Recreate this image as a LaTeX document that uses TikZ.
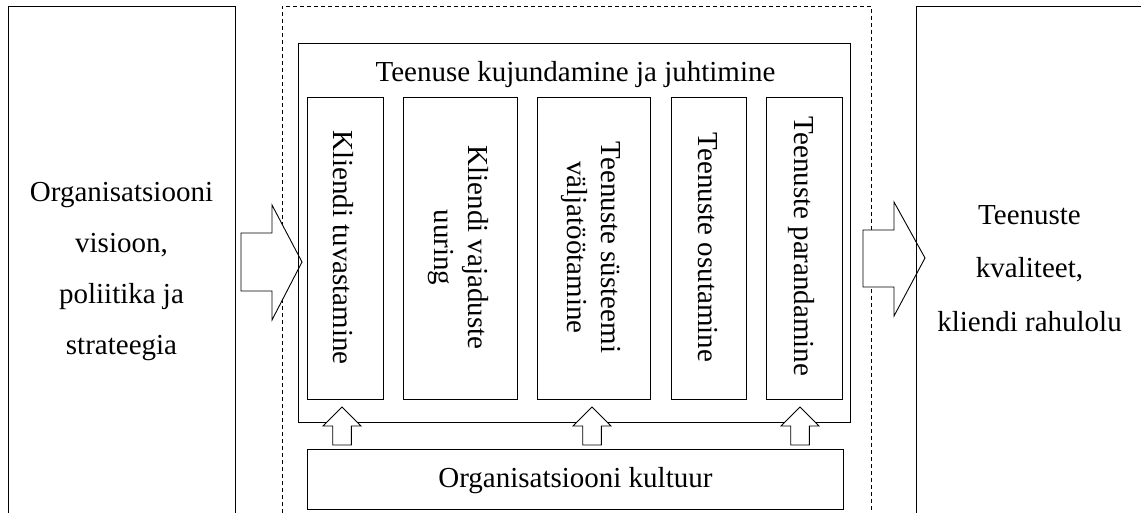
\documentclass[tikz,border=0pt]{standalone}
\usepackage{fontspec}
\setmainfont{Liberation Serif}
\begin{document}
\begin{tikzpicture}[x=1pt,y=-1pt,
  line/.style={draw=black, line width=0.9pt},
  box/.style={line, rectangle, inner sep=0pt, anchor=north west},
  sidetxt/.style={font=\fontsize{29}{51}\selectfont, align=center, inner sep=0pt},
  sidetxtb/.style={font=\fontsize{29}{53.5}\selectfont, align=center, inner sep=0pt},
  plaintxt/.style={font=\fontsize{29}{34}\selectfont, align=center, inner sep=0pt},
  vtxt/.style={font=\fontsize{29}{34}\selectfont, align=center, inner sep=0pt, rotate=-90},
  framedash/.style={draw=black, line width=0.8pt, dash pattern=on 4pt off 3pt},
  blockarrow/.style={line, fill=white, line join=miter}]
\useasboundingbox (0,0) rectangle (1141,513);

% dashed frame
\draw[framedash] (282,520) -- (282,6) -- (871,6) -- (871,520);

% side arrows
\draw[blockarrow] (241,233) -- (272,233) -- (272,205) -- (302,262) -- (272,320) -- (272,291) -- (241,291) -- cycle;
\draw[blockarrow] (863,230) -- (894,230) -- (894,202) -- (925,258) -- (894,316) -- (894,287) -- (863,287) -- cycle;

% side boxes (open at the image border)
\draw[line] (8,520) -- (8,6) -- (235,6) -- (235,520);
\draw[line] (916,520) -- (916,6) -- (1150,6);
\node[sidetxt] (lefttext) at (121.5,271.5) {Organisatsiooni\\visioon,\\poliitika ja\\strateegia};
\node[sidetxtb] (righttext) at (1029.5,268.5) {Teenuste\\kvaliteet,\\kliendi rahulolu};

% main box
\node[box, minimum width=552pt, minimum height=379pt] (main) at (298,43) {};
\node[plaintxt, anchor=base] (title) at (575.5,82) {Teenuse kujundamine ja juhtimine};

% inner boxes
\node[box, minimum width=76pt,  minimum height=302pt] (k1) at (307,97) {};
\node[box, minimum width=114pt, minimum height=302pt] (k2) at (403,97) {};
\node[box, minimum width=113pt, minimum height=302pt] (k3) at (536.5,97) {};
\node[box, minimum width=75pt,  minimum height=302pt] (k4) at (671,97) {};
\node[box, minimum width=76pt,  minimum height=302pt] (k5) at (766,97) {};

\node[vtxt] (t1) at ([xshift=-2pt,yshift=1pt]k1.center) {Kliendi tuvastamine};
\node[vtxt] (t2) at ([xshift=-2pt,yshift=1pt]k2.center) {Kliendi vajaduste\\uuring};
\node[vtxt] (t3) at ([xshift=-2pt,yshift=1pt]k3.center) {Teenuste süsteemi\\väljatöötamine};
\node[vtxt] (t4) at ([xshift=-1pt,yshift=1pt]k4.center) {Teenuste osutamine};
\node[vtxt] (t5) at ([xshift=-3pt,yshift=2pt]k5.center) {Teenuste parandamine};

% up arrows
\foreach \X in {342,592,800}{
  \draw[blockarrow] (\X-9.3,445) -- (\X-9.3,426) -- (\X-19,426) -- (\X,407) -- (\X+19,426) -- (\X+9.3,426) -- (\X+9.3,445) -- cycle;
}

% culture box
\node[box, minimum width=536pt, minimum height=60pt] (cult) at (307,449) {};
\node[plaintxt] (culttext) at ([yshift=-1pt]cult.center) {Organisatsiooni kultuur};
\end{tikzpicture}
\end{document}
